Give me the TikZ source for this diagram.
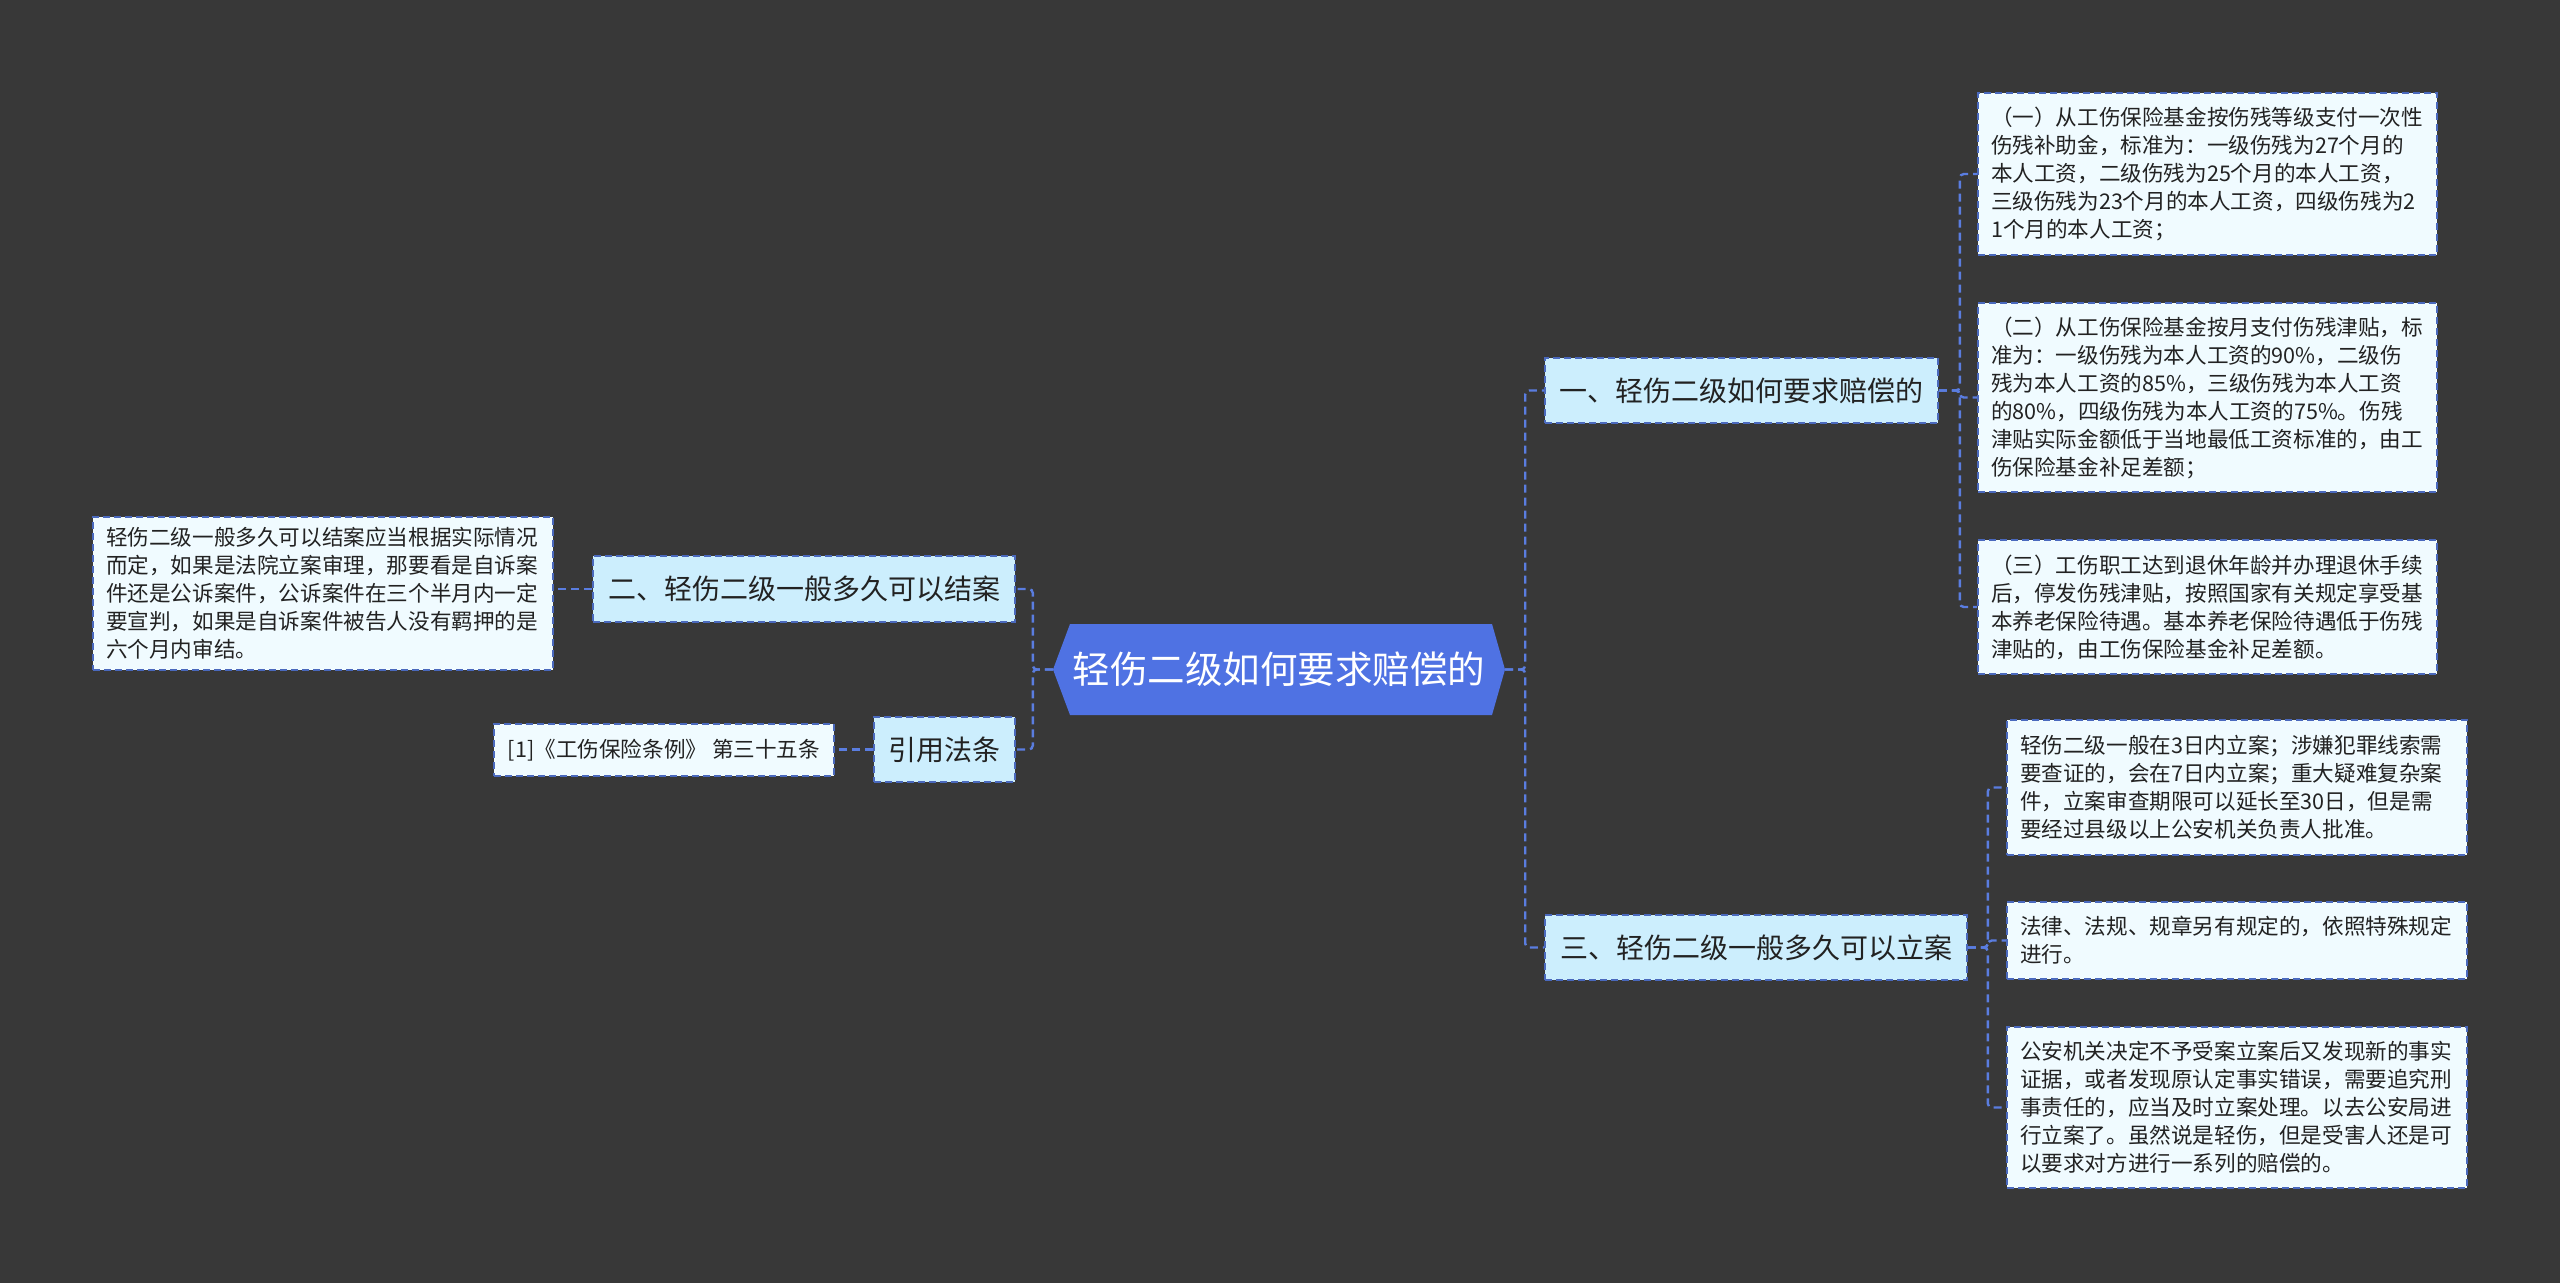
\documentclass[tikz,border=0pt]{standalone}
\usepackage{fontspec}
\setmainfont{Noto Sans CJK SC}
\definecolor{bg}{HTML}{383838}
\definecolor{rootfill}{HTML}{4F72E3}
\definecolor{brfill}{HTML}{CCEEFD}
\definecolor{lffill}{HTML}{F0FBFF}
\definecolor{bord}{HTML}{4A69BD}
\definecolor{conncol}{HTML}{5A7DE0}
\definecolor{txt}{HTML}{222222}
\begin{document}
\begin{tikzpicture}[x=1pt,y=-1pt,
 conn/.style={draw=conncol, line width=2.4pt, dash pattern=on 8pt off 5pt, rounded corners=4pt},
 branch/.style={draw=bord, fill=brfill, line width=1.6pt, dash pattern=on 7pt off 4pt, text=txt,
   font=\fontsize{28pt}{34pt}\selectfont, inner sep=0pt, align=center},
 leaf/.style={draw=bord, fill=lffill, line width=1.6pt, dash pattern=on 7pt off 4pt, text=txt,
   font=\fontsize{21.6pt}{28pt}\selectfont, inner xsep=13pt, inner ysep=0pt, align=left},
 rootnode/.style={text=white, font=\fontsize{37.5pt}{44pt}\selectfont, inner sep=0pt,
   minimum width=452pt, minimum height=91pt}
]
\fill[bg] (0,0) rectangle (2560,1283);
\useasboundingbox (0,0) rectangle (2560,1283);

% root
\fill[rootfill] (1053,669.5) -- (1070,624) -- (1492,624) -- (1505,669.5) -- (1492,715) -- (1070,715) -- cycle;
\node[rootnode] (root) at (1279,669.5) {轻伤二级如何要求赔偿的};

% branches
\node[branch, minimum width=393pt, minimum height=65pt] (b1) at (1741.5,390.5) {一、轻伤二级如何要求赔偿的};
\node[branch, minimum width=422pt, minimum height=65pt] (b3) at (1756,947.5) {三、轻伤二级一般多久可以立案};
\node[branch, minimum width=422pt, minimum height=66pt] (b2) at (804,589) {二、轻伤二级一般多久可以结案};
\node[branch, minimum width=141pt, minimum height=65pt] (b4) at (944.5,749.5) {引用法条};

% leaves
\node[leaf, text width=433pt, minimum height=162pt] (l11) at (2207.5,174) {（一）从工伤保险基金按伤残等级支付一次性\\伤残补助金，标准为：一级伤残为27个月的\\本人工资，二级伤残为25个月的本人工资，\\三级伤残为23个月的本人工资，四级伤残为2\\1个月的本人工资；};
\node[leaf, text width=433pt, minimum height=189pt] (l12) at (2207.5,397.5) {（二）从工伤保险基金按月支付伤残津贴，标\\准为：一级伤残为本人工资的90\%，二级伤\\残为本人工资的85\%，三级伤残为本人工资\\的80\%，四级伤残为本人工资的75\%。伤残\\津贴实际金额低于当地最低工资标准的，由工\\伤保险基金补足差额；};
\node[leaf, text width=433pt, minimum height=134pt] (l13) at (2207.5,607) {（三）工伤职工达到退休年龄并办理退休手续\\后，停发伤残津贴，按照国家有关规定享受基\\本养老保险待遇。基本养老保险待遇低于伤残\\津贴的，由工伤保险基金补足差额。};
\node[leaf, text width=434pt, minimum height=135pt] (l31) at (2237,787.5) {轻伤二级一般在3日内立案；涉嫌犯罪线索需\\要查证的，会在7日内立案；重大疑难复杂案\\件，立案审查期限可以延长至30日，但是需\\要经过县级以上公安机关负责人批准。};
\node[leaf, text width=434pt, minimum height=77pt] (l32) at (2237,940.5) {法律、法规、规章另有规定的，依照特殊规定\\进行。};
\node[leaf, text width=434pt, minimum height=161pt] (l33) at (2237,1107.5) {公安机关决定不予受案立案后又发现新的事实\\证据，或者发现原认定事实错误，需要追究刑\\事责任的，应当及时立案处理。以去公安局进\\行立案了。虽然说是轻伤，但是受害人还是可\\以要求对方进行一系列的赔偿的。};
\node[leaf, text width=434pt, minimum height=153pt] (l2) at (323,593.5) {轻伤二级一般多久可以结案应当根据实际情况\\而定，如果是法院立案审理，那要看是自诉案\\件还是公诉案件，公诉案件在三个半月内一定\\要宣判，如果是自诉案件被告人没有羁押的是\\六个月内审结。};
\node[leaf, minimum width=340pt, minimum height=52pt, inner xsep=4pt] (l4) at (664,750) {\mbox{[1]《工伤保险条例》 第三十五条}};

% connectors
\foreach \b in {b1,b3}{\draw[conn] (root.east) -- ++(20,0) |- (\b.west);}
\foreach \b in {b2,b4}{\draw[conn] (root.west) -- ++(-20,0) |- (\b.east);}
\foreach \l in {l11,l12,l13}{\draw[conn] (b1.east) -- ++(21,0) |- (\l.west);}
\foreach \l in {l31,l32,l33}{\draw[conn] (b3.east) -- ++(20,0) |- (\l.west);}
\draw[conn] (b2.west) -- (b2.west -| l2.east);
\draw[conn] (b4.west) -- (b4.west -| l4.east);
\end{tikzpicture}
\end{document}
